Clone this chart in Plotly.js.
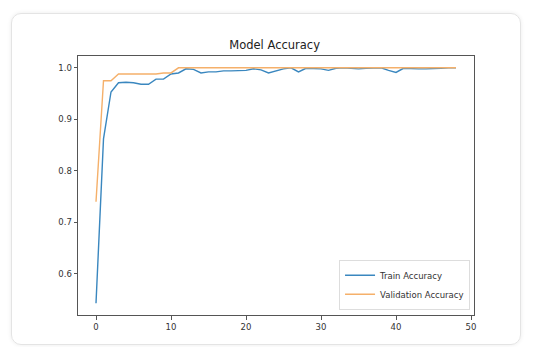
<!DOCTYPE html>
<html><head><meta charset="utf-8">
<script src="https://cdn.plot.ly/plotly-3.0.1.min.js"></script>
<style>
html,body{margin:0;padding:0;background:#fff;}
#card{position:absolute;left:11px;top:13px;width:508px;height:330px;border:1px solid #e4e4e4;border-radius:10px;box-shadow:0 0 4px rgba(0,0,0,0.08);}
#chart{position:absolute;left:0;top:0;width:546px;height:347px;}
</style></head>
<body>
<div id="card"></div>
<div id="chart"></div>
<script>
const epochs = Array.from({length:49},(_,i)=>i);
const trainAcc = [0.543,0.862,0.953,0.971,0.972,0.971,0.968,0.968,0.978,0.978,0.988,0.990,0.998,0.997,0.990,0.992,0.992,0.994,0.994,0.994,0.995,0.998,0.996,0.990,0.994,0.998,1.000,0.992,0.999,0.999,0.998,0.995,0.999,1.000,0.999,0.998,0.999,1.000,1.000,0.995,0.991,0.999,0.998,0.998,0.998,0.998,0.999,1.000,1.000];
const valAcc = [0.740,0.975,0.975,0.988,0.988,0.988,0.988,0.988,0.988,0.990,0.990,1.000,1.000,1.000,1.000,1.000,1.000,1.000,1.000,1.000,1.000,1.000,1.000,1.000,1.000,1.000,1.000,1.000,1.000,1.000,1.000,1.000,1.000,1.000,1.000,1.000,1.000,1.000,1.000,1.000,1.000,1.000,1.000,1.000,1.000,1.000,1.000,1.000,1.000];
const xTicks = [0,10,20,30,40,50];
const yTicks = [0.6,0.7,0.8,0.9,1.0];

const traces = [
 {x:epochs,y:trainAcc,type:'scatter',mode:'lines',name:'Train Accuracy',line:{color:'#3a87bf',width:1.4}},
 {x:epochs,y:valAcc,type:'scatter',mode:'lines',name:'Validation Accuracy',line:{color:'#f5b06a',width:1.4}}
];
const axisCommon = {showline:true,mirror:true,linecolor:'#555',linewidth:1,ticks:'outside',ticklen:3.5,tickcolor:'#555',showgrid:false,zeroline:false,tickfont:{family:'DejaVu Sans',size:8.5,color:'#333'}};
const layout = {
 width:546,height:347,
 paper_bgcolor:'rgba(0,0,0,0)',plot_bgcolor:'#fff',
 margin:{l:78,r:72,t:56,b:32},
 title:{text:'Model Accuracy',font:{family:'DejaVu Sans',size:11.5,color:'#222'},x:0.503,xanchor:'center',y:0.87,yanchor:'middle'},
 xaxis:Object.assign({},axisCommon,{range:[-2.4,50.4],tickvals:xTicks,ticktext:xTicks.map(String)}),
 yaxis:Object.assign({},axisCommon,{range:[0.5202,1.0229],tickvals:yTicks,ticktext:yTicks.map(v=>v.toFixed(1))}),
 showlegend:true,
 legend:{x:0.99,y:0.02,xanchor:'right',yanchor:'bottom',bgcolor:'rgba(255,255,255,0.9)',bordercolor:'#ddd',borderwidth:1,font:{family:'DejaVu Sans',size:8.5,color:'#333'},tracegroupgap:0,itemwidth:30}
};
Plotly.newPlot('chart',traces,layout,{displayModeBar:false,staticPlot:true});
</script>
</body></html>
